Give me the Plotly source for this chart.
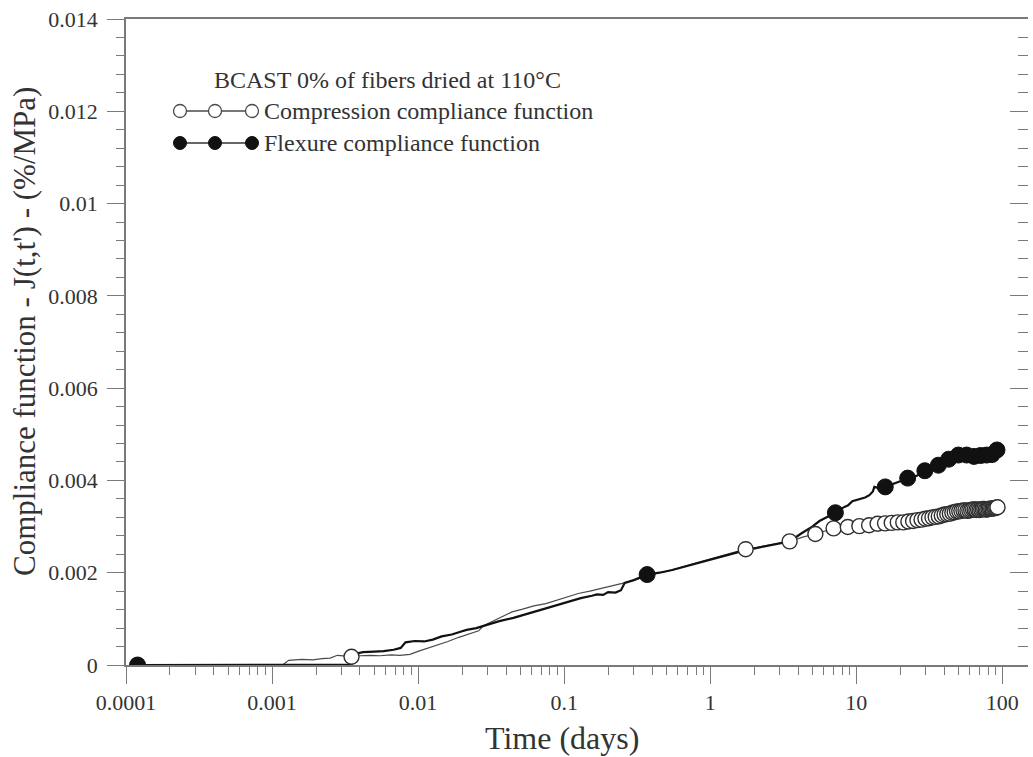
import math
import plotly.graph_objects as go

# ---- data: compliance function J(t,t') in %/MPa versus time in days ----
compression_t = [0.0006, 0.0009, 0.00118, 0.0013, 0.0016, 0.0019, 0.0022, 0.0025, 0.0028, 0.0031,
                 0.0035, 0.004, 0.0047, 0.0055, 0.0065, 0.0075, 0.0088, 0.0101, 0.0115, 0.0135,
                 0.016, 0.019, 0.0225, 0.026, 0.028, 0.032, 0.037, 0.044, 0.052, 0.062,
                 0.075, 0.09, 0.105, 0.125, 0.15, 0.18, 0.21, 0.25, 0.3, 0.36,
                 0.43, 0.52, 0.62, 0.75, 0.9, 1.05, 1.25, 1.5, 1.75, 2.1,
                 2.5, 3.0, 3.5, 4.3, 5.25, 6.1, 7.0, 8.75, 10.5, 12.25,
                 14.0, 17.5, 21.0, 24.5, 28.0, 31.5, 35.0, 40.0, 45.0, 50.0,
                 55.0, 60.0, 65.0, 70.0, 75.0, 80.0, 85.0, 90.0, 92.75]
compression_j = [0.0, 0.00001, 0.0, 0.0001, 0.00012, 0.00011, 0.00014, 0.00015, 0.00021, 0.0002,
                 0.00018, 0.0002, 0.00021, 0.0002, 0.00022, 0.00021, 0.00023, 0.0003, 0.00036, 0.00042,
                 0.00051, 0.0006, 0.00068, 0.00074, 0.00085, 0.00094, 0.00104, 0.00115, 0.00121, 0.00128,
                 0.00133, 0.00141, 0.00147, 0.00155, 0.0016, 0.00166, 0.0017, 0.00177, 0.00184, 0.00192,
                 0.00199, 0.00204, 0.00212, 0.00219, 0.00226, 0.00232, 0.00238, 0.00245, 0.00251, 0.00255,
                 0.0026, 0.00264, 0.00268, 0.00277, 0.00284, 0.00291, 0.00296, 0.00299, 0.00301, 0.00303,
                 0.00306, 0.00308, 0.00309, 0.00312, 0.00315, 0.00318, 0.00321, 0.00325, 0.0033, 0.00333,
                 0.00335, 0.00334, 0.00337, 0.00336, 0.00338, 0.00337, 0.00339, 0.0034, 0.00342]

flexure_t = [0.00012, 0.0004, 0.001, 0.002, 0.0035, 0.0038, 0.0042, 0.005, 0.0058, 0.0068,
             0.0076, 0.0082, 0.0086, 0.0095, 0.011, 0.0126, 0.0145, 0.017, 0.0195, 0.0215,
             0.025, 0.03, 0.036, 0.045, 0.055, 0.07, 0.085, 0.1, 0.13, 0.155,
             0.168, 0.185, 0.2, 0.225, 0.245, 0.26, 0.3, 0.37, 0.45, 0.55,
             0.7, 0.85, 1.0, 1.2, 1.45, 1.7, 2.1, 2.5, 3.0, 3.5,
             4.2, 5.0, 5.6, 6.3, 7.2, 8.0, 8.8, 9.4, 10.5, 11.5,
             12.3, 13.0, 13.3, 14.5, 15.8, 18.0, 20.0, 22.5, 26.0, 29.5,
             33.0, 36.5, 40.0, 43.0, 47.0, 50.0, 54.0, 57.0, 61.0, 64.0,
             68.0, 71.0, 75.0, 78.0, 82.0, 85.0, 89.0, 92.0]
flexure_j = [0.0, 0.0, 0.0, 0.0, 0.00001, 0.00025, 0.00028, 0.00029, 0.0003, 0.00033,
             0.00037, 0.00049, 0.0005, 0.00052, 0.00051, 0.00055, 0.00062, 0.00066, 0.00072, 0.00076,
             0.0008, 0.00088, 0.00095, 0.00102, 0.0011, 0.0012, 0.00128, 0.00135, 0.00145, 0.0015,
             0.00153, 0.00152, 0.00158, 0.00157, 0.00162, 0.00178, 0.00184, 0.00196, 0.002, 0.00206,
             0.00215, 0.00222, 0.00228, 0.00236, 0.00242, 0.00248, 0.00254, 0.00259, 0.00263, 0.00268,
             0.00285, 0.003, 0.00312, 0.0032, 0.0033, 0.0034, 0.00346, 0.00355, 0.0036, 0.00363,
             0.00368, 0.00376, 0.00386, 0.00383, 0.00386, 0.00392, 0.00398, 0.00405, 0.0041, 0.00421,
             0.00425, 0.00433, 0.00438, 0.00446, 0.0045, 0.00455, 0.00452, 0.00455, 0.00453, 0.00452,
             0.00451, 0.00454, 0.00452, 0.00455, 0.00455, 0.00456, 0.0046, 0.00466]

# symbols placed on the curves
compression_mark_t = [0.0035, 1.75, 3.5, 5.25, 7.0, 8.75, 10.5, 12.25, 14.0, 15.75,
                      17.5, 19.25, 21.0, 22.75, 24.5, 26.25, 28.0, 29.75, 31.5, 33.25,
                      35.0, 36.75, 38.5, 40.25, 42.0, 43.75, 45.5, 47.25, 49.0, 50.75,
                      52.5, 54.25, 56.0, 57.75, 59.5, 61.25, 63.0, 64.75, 66.5, 68.25,
                      70.0, 71.75, 73.5, 75.25, 77.0, 78.75, 80.5, 82.25, 84.0, 85.75,
                      87.5, 89.25, 91.0, 92.75]
compression_mark_j = [0.00018, 0.00251, 0.00268, 0.00284, 0.00296, 0.00299, 0.00301, 0.00303, 0.00306, 0.00307,
                      0.00308, 0.00309, 0.00309, 0.00311, 0.00312, 0.00314, 0.00315, 0.00317, 0.00318, 0.0032,
                      0.00321, 0.00322, 0.00324, 0.00326, 0.00327, 0.00328, 0.0033, 0.00331, 0.00333, 0.00333,
                      0.00334, 0.00335, 0.00335, 0.00334, 0.00335, 0.00336, 0.00337, 0.00337, 0.00336, 0.00337,
                      0.00336, 0.00337, 0.00338, 0.00338, 0.00337, 0.00337, 0.00338, 0.00339, 0.00339, 0.00339,
                      0.0034, 0.0034, 0.00341, 0.00342]

flexure_mark_t = [0.00012, 0.37, 7.2, 15.8, 22.5, 29.5, 36.5, 43.0, 50.0, 57.0,
                  64.0, 71.0, 78.0, 85.0, 92.0]
flexure_mark_j = [0.0, 0.00196, 0.0033, 0.00386, 0.00405, 0.00421, 0.00433, 0.00446, 0.00455, 0.00455,
                  0.00452, 0.00454, 0.00455, 0.00456, 0.00466]

x_tick_vals = [0.0001, 0.001, 0.01, 0.1, 1, 10, 100]
x_tick_text = ["0.0001", "0.001", "0.01", "0.1", "1", "10", "100"]
y_tick_vals = [0, 0.002, 0.004, 0.006, 0.008, 0.01, 0.012, 0.014]
y_tick_text = ["0", "0.002", "0.004", "0.006", "0.008", "0.01", "0.012", "0.014"]

x_title = "Time (days)"
y_title = "Compliance function - J(t,t') - (%/MPa)"
legend_title = "BCAST 0% of fibers dried at 110°C"
series_names = ["Compression compliance function", "Flexure compliance function"]

# ---- styling ----
FONT = "Liberation Serif"
TEXT = "#333333"
AXIS = "#7a7a7a"
W, H = 1033, 757
M_L, M_R, M_T, M_B = 126, 5, 19, 92
PLOT_W = W - M_L - M_R
PLOT_H = H - M_T - M_B

x_minor = [m * 10.0 ** e for e in range(-4, 3) for m in range(2, 10)]

fig = go.Figure()

fig.add_trace(go.Scatter(x=compression_t, y=compression_j, mode="lines",
                         line=dict(color="#4a4a4a", width=1.2), showlegend=False))
fig.add_trace(go.Scatter(x=flexure_t, y=flexure_j, mode="lines",
                         line=dict(color="#111111", width=2.2), showlegend=False))
fig.add_trace(go.Scatter(x=compression_mark_t, y=compression_mark_j, mode="markers",
                         marker=dict(symbol="circle", size=15, color="white",
                                     line=dict(color="#2e2e2e", width=1.4)),
                         showlegend=False))
fig.add_trace(go.Scatter(x=flexure_mark_t, y=flexure_mark_j, mode="markers",
                         marker=dict(symbol="circle", size=16, color="#111111",
                                     line=dict(color="#111111", width=1)),
                         showlegend=False))
# carrier for the right-hand tick column
fig.add_trace(go.Scatter(x=[flexure_t[0]], y=[flexure_j[0]], yaxis="y2", mode="markers",
                         marker=dict(opacity=0), hoverinfo="skip", showlegend=False))

fig.update_layout(
    width=W, height=H,
    margin=dict(l=M_L, r=M_R, t=M_T, b=M_B),
    paper_bgcolor="white", plot_bgcolor="white",
    font=dict(family=FONT, color=TEXT, size=22),
    xaxis=dict(
        type="log", range=[-4, math.log10(150)],
        tickmode="array", tickvals=x_tick_vals, ticktext=x_tick_text,
        ticks="outside", ticklen=17, tickwidth=1.3, tickcolor=AXIS,
        minor=dict(tickmode="array", tickvals=x_minor, ticks="outside",
                   ticklen=8, tickwidth=1.3, tickcolor=AXIS, showgrid=False),
        showline=True, linecolor=AXIS, linewidth=1.5, mirror=True,
        showgrid=False, zeroline=False,
        tickfont=dict(size=22, color=TEXT),
    ),
    yaxis=dict(
        range=[0, 0.014],
        tickmode="array", tickvals=y_tick_vals, ticktext=y_tick_text,
        ticks="outside", ticklen=17, tickwidth=1.3, tickcolor=AXIS,
        minor=dict(dtick=0.0004, ticks="outside", ticklen=8, tickwidth=1.3,
                   tickcolor=AXIS, showgrid=False),
        showline=True, linecolor=AXIS, linewidth=1.5,
        showgrid=False, zeroline=False, ticklabelstandoff=5,
        tickfont=dict(size=22, color=TEXT),
    ),
    yaxis2=dict(
        overlaying="y", side="right", range=[0, 0.014],
        tickmode="array", tickvals=y_tick_vals, showticklabels=False,
        ticks="inside", ticklen=18, tickwidth=1.3, tickcolor=AXIS,
        minor=dict(dtick=0.0004, ticks="inside", ticklen=10, tickwidth=1.3,
                   tickcolor=AXIS, showgrid=False),
        showline=False, showgrid=False, zeroline=False,
    ),
)


def px_x(px):
    return (px - M_L) / PLOT_W


def px_y(py):
    return (H - M_B - py) / PLOT_H


# axis titles
fig.add_annotation(x=px_x(562), y=px_y(738), xref="paper", yref="paper",
                   text=x_title, showarrow=False, xanchor="center", yanchor="middle",
                   font=dict(size=32, color=TEXT, family=FONT))
fig.add_annotation(x=px_x(24), y=px_y(332), xref="paper", yref="paper",
                   text=y_title, textangle=-90, showarrow=False,
                   xanchor="center", yanchor="middle",
                   font=dict(size=31, color=TEXT, family=FONT))

# ---- hand-drawn key with three symbols per entry ----
key_rows = [111, 143]
key_symbols_x = [180, 215, 252]
key_styles = [
    dict(fill="white", line="#4a4a4a", line_w=1.3, seg="#4a4a4a"),
    dict(fill="#111111", line="#111111", line_w=1, seg="#333333"),
]

fig.add_annotation(x=px_x(212), y=px_y(80), xref="paper", yref="paper",
                   text=legend_title, showarrow=False, xanchor="left", yanchor="middle",
                   font=dict(size=24, color=TEXT, family=FONT))
for row_y, name, st in zip(key_rows, series_names, key_styles):
    fig.add_shape(type="line", xref="paper", yref="paper",
                  x0=px_x(key_symbols_x[0]), x1=px_x(key_symbols_x[-1]),
                  y0=px_y(row_y), y1=px_y(row_y),
                  line=dict(color=st["seg"], width=1.3))
    for sx in key_symbols_x:
        fig.add_shape(type="circle", xref="paper", yref="paper",
                      xsizemode="pixel", ysizemode="pixel",
                      xanchor=px_x(sx), yanchor=px_y(row_y),
                      x0=-6.5, x1=6.5, y0=-6.5, y1=6.5,
                      fillcolor=st["fill"], line=dict(color=st["line"], width=st["line_w"]))
    fig.add_annotation(x=px_x(262), y=px_y(row_y), xref="paper", yref="paper",
                       text=name, showarrow=False, xanchor="left", yanchor="middle",
                       font=dict(size=24, color=TEXT, family=FONT))

fig.write_html("out.html")
